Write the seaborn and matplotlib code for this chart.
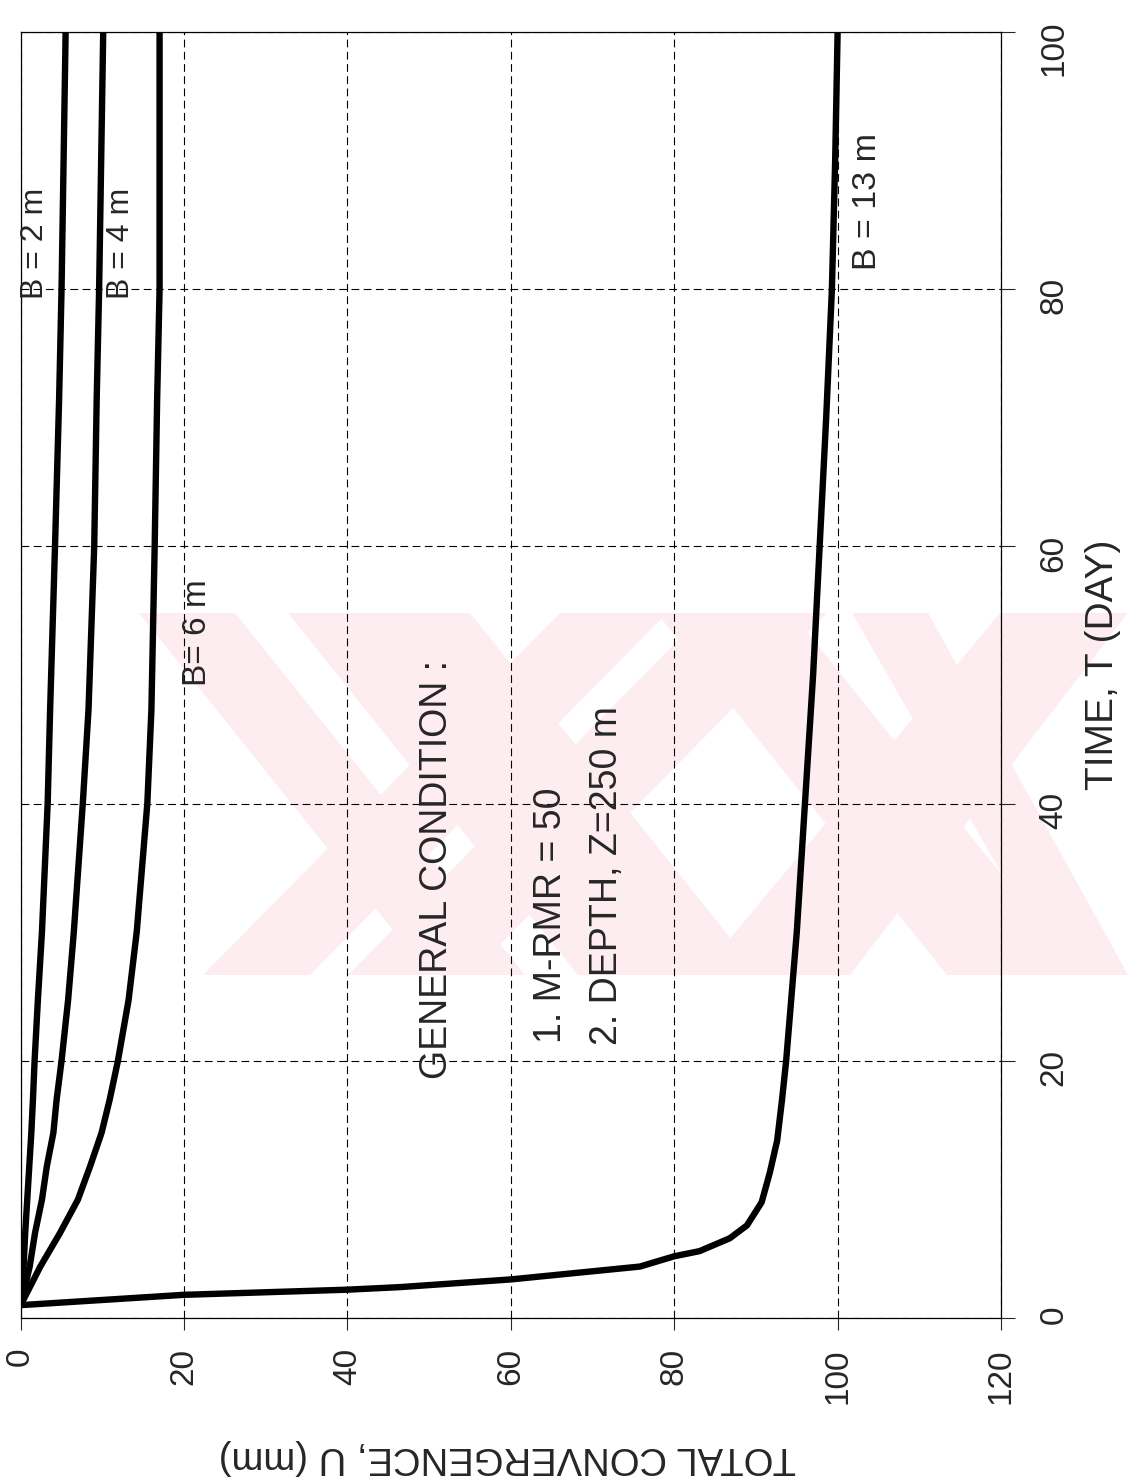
import matplotlib
matplotlib.use("Agg")
import matplotlib.pyplot as plt
import pandas as pd
import seaborn as sns
from matplotlib.patches import Polygon

# Total convergence U (mm) against time T (day) for each opening span B
time_b2 = [1, 4, 6.6, 9.2, 14.4, 17, 20, 24.7, 30, 40, 47.3, 60, 71.4, 80, 100]
conv_b2 = [0, 0.35, 0.55, 0.8, 1.3, 1.5, 1.7, 2.1, 2.6, 3.3, 3.6, 4.2, 4.7, 5.0, 5.5]

time_b4 = [1, 4, 6.6, 9.2, 11.8, 14.4, 17, 20, 24.7, 30, 40, 47.3, 60, 71.4, 80, 100]
conv_b4 = [0, 1.1, 1.75, 2.6, 3.2, 4.0, 4.4, 5.0, 5.8, 6.5, 7.6, 8.3, 9.0, 9.3, 9.6, 10.1]

time_b6 = [1, 4, 6.6, 9.2, 11.8, 14.4, 17, 20, 24.7, 30, 40, 47.3, 60, 71.4, 80, 100]
conv_b6 = [0, 2.4, 4.8, 7.0, 8.5, 9.9, 10.9, 11.9, 13.2, 14.2, 15.5, 16.0, 16.4, 16.7, 17.0, 17.0]

time_b13 = [1, 1.8, 2.2, 2.4, 3.0, 4.0, 4.8, 5.2, 6.2, 7.2, 9.0, 11.3, 13.8, 17,
            20, 30, 40, 50, 60, 70, 80, 90, 100]
conv_b13 = [0, 19.9, 39.9, 46.4, 60.0, 75.8, 80.0, 83.1, 86.8, 88.9, 90.7, 91.7,
            92.6, 93.2, 93.7, 95.0, 96.0, 97.0, 97.8, 98.6, 99.3, 99.7, 100.0]

span_names = ["B = 2 m", "B = 4 m", "B = 6 m", "B = 13 m"]
conv_ticks = [0, 20, 40, 60, 80, 100, 120]
time_ticks = [0, 20, 40, 60, 80, 100]

frames = []
for name, t, u in zip(span_names,
                      [time_b2, time_b4, time_b6, time_b13],
                      [conv_b2, conv_b4, conv_b6, conv_b13]):
    frames.append(pd.DataFrame({"time": t, "conv": u, "span": name}))
df = pd.concat(frames, ignore_index=True)

sns.set_style("white")
plt.rcParams["font.family"] = ["Liberation Sans", "DejaVu Sans"]

W, H = 1128, 1482
fig = plt.figure(figsize=(W / 100, H / 100), dpi=100)
fig.patch.set_facecolor("white")


def px(x, y):
    return (x / W, 1 - y / H)


# faint background emblem
pink = "#fdedf0"
Y0, Y1 = 613, 975
bands = [
    # (top_left, top_right, bottom_left, bottom_right) in pixels
    (139, 235, 429, 525),
    (288, 470, 578, 760),
    (560, 667, 203, 310),
    (705, 827, 348, 470),
    (657, 792, 947, 1082),
    (1000, 1128, 700, 850),
    (852, 928, 1060, 1128),
]
for tl, tr, bl, br in bands:
    poly = Polygon([px(tl, Y0), px(tr, Y0), px(br, Y1), px(bl, Y1)],
                   closed=True, facecolor=pink, edgecolor="none",
                   transform=fig.transFigure, zorder=-1)
    fig.add_artist(poly)

ax = fig.add_axes([20.7 / W, 1 - 1318 / H, (1001 - 20.7) / W, (1318 - 32) / H])
ax.set_facecolor("none")

sns.lineplot(data=df, x="conv", y="time", hue="span", palette=["black"] * 4,
             sort=False, estimator=None, legend=False, linewidth=4.6,
             solid_capstyle="round", solid_joinstyle="round", ax=ax)

ax.set_xlim(0, 120)
ax.set_ylim(0, 100)
ax.set_xticks(conv_ticks)
ax.set_yticks(time_ticks)
ax.set_xticklabels([str(v) for v in conv_ticks])
ax.set_yticklabels([str(v) for v in time_ticks])

ax.yaxis.tick_right()
ax.yaxis.set_label_position("right")
ax.tick_params(axis="x", direction="out", length=8.6, width=0.8, pad=13,
               labelsize=24, labelrotation=90, bottom=True)
ax.tick_params(axis="y", direction="out", length=10, width=0.8, pad=17,
               labelsize=24, labelrotation=90, right=True, left=False)

ax.grid(True, color="black", linestyle=(0, (7, 4)), linewidth=0.8)
for s in ax.spines.values():
    s.set_visible(True)
    s.set_color("black")
    s.set_linewidth(0.9)

ax.set_xlabel("TOTAL CONVERGENCE, U (mm)", fontsize=27.5, rotation=180,
              ha="center", va="center")
ax.xaxis.set_label_coords(0.496, -0.108)
ax.set_ylabel("TIME, T (DAY)", fontsize=28, rotation=90,
              ha="center", va="center")
ax.yaxis.set_label_coords(1.104, 0.508)

# curve labels
ax.text(1.75, 83.6, "B = 2 m", rotation=90, ha="center", va="center", fontsize=23)
ax.text(12.3, 83.6, "B = 4 m", rotation=90, ha="center", va="center", fontsize=23)
ax.text(21.7, 53.3, "B= 6 m", rotation=90, ha="center", va="center", fontsize=24)
ax.text(103.6, 86.8, "B = 13 m", rotation=90, ha="center", va="center", fontsize=24.5)

# general condition note
note_kw = dict(rotation=90, rotation_mode="anchor", ha="left", va="center", fontsize=27)
ax.text(51.0, 18.6, "GENERAL CONDITION :", **note_kw)
ax.text(64.9, 21.4, "1. M-RMR = 50", **note_kw)
ax.text(71.8, 21.2, "2. DEPTH, Z=250 m", **note_kw)

fig.savefig("out.png", dpi=100)
